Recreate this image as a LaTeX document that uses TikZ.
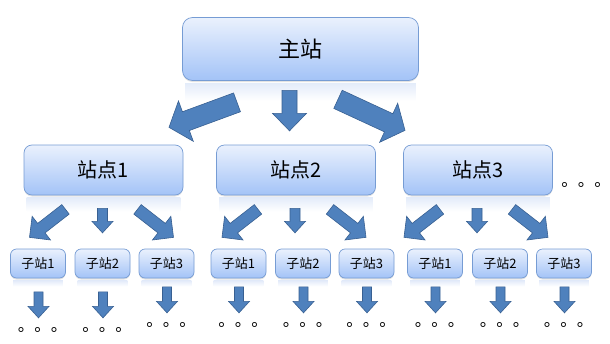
\documentclass[tikz,border=0pt]{standalone}
\usepackage{fontspec}
\newfontfamily\cjk{Noto Sans CJK SC}
\usetikzlibrary{calc,shadows}
\definecolor{boxtop}{RGB}{234,241,253}
\definecolor{boxbot}{RGB}{163,195,247}
\definecolor{boxedge}{RGB}{118,156,212}
\definecolor{arrfill}{RGB}{79,129,189}
\definecolor{arredge}{RGB}{56,96,146}
\definecolor{reflect}{RGB}{228,236,250}
\tikzset{
  stbox/.style={draw=boxedge, line width=0.7pt, top color=boxtop, bottom color=boxbot,
    font=\cjk, inner sep=0pt,
    drop shadow={opacity=0.22,shadow xshift=0pt,shadow yshift=-1.5pt}},
  mainbox/.style={stbox, rounded corners=10pt, minimum width=236pt, minimum height=63pt,
    font=\cjk\fontsize{22}{26}\selectfont},
  sitebox/.style={stbox, rounded corners=8pt, minimum height=50pt,
    font=\cjk\fontsize{20}{24}\selectfont},
  subbox/.style={stbox, rounded corners=6pt, minimum width=55pt, minimum height=29pt,
    font=\cjk\fontsize{13}{16}\selectfont},
  blkarrow/.style={fill=arrfill, draw=arredge, line width=0.6pt, line join=miter},
  dots/.style={font=\cjk\fontsize{16.5}{18}\selectfont, inner sep=0pt, anchor=base}
}
% block arrow: tail, tip, half shaft, half head, head length
\newcommand{\blkarrow}[5]{%
  \coordinate (ba) at #1;
  \coordinate (bb) at #2;
  \coordinate (bn) at ($(bb)!#5!(ba)$);
  \draw[blkarrow] ($(ba)!#3!90:(bb)$) -- ($(bn)!#3!90:(bb)$) -- ($(bn)!#4!90:(bb)$)
    -- (bb) -- ($(bn)!#4!-90:(bb)$) -- ($(bn)!#3!-90:(bb)$) -- ($(ba)!#3!-90:(bb)$) -- cycle;}
% reflection under a box
\newcommand{\reflbox}[2]{%
  \shade[top color=reflect, bottom color=white] ($(#1.south west)+(3,2.5)$) rectangle ($(#1.south east)+(-3,#2)$);}

\begin{document}
\begin{tikzpicture}[x=1pt,y=-1pt]
\useasboundingbox (0,0) rectangle (610,343);
\node[mainbox] (main) at (300.5,49) {主站};
\node[sitebox, minimum width=159pt] (st1) at (103.5,170) {站点1};
\node[sitebox, minimum width=159pt] (st2) at (296,170) {站点2};
\node[sitebox, minimum width=149pt] (st3) at (478,170) {站点3};
\node[subbox] (sub11) at (38,263.5) {子站1};
\node[subbox] (sub12) at (102.5,263.5) {子站2};
\node[subbox] (sub13) at (166.5,263.5) {子站3};
\node[subbox] (sub21) at (238.5,263.5) {子站1};
\node[subbox] (sub22) at (303,263.5) {子站2};
\node[subbox] (sub23) at (366.5,263.5) {子站3};
\node[subbox] (sub31) at (435,263.5) {子站1};
\node[subbox] (sub32) at (500,263.5) {子站2};
\node[subbox] (sub33) at (564,263.5) {子站3};
\node[dots] (more) at (586,186) {。。。};
\reflbox{main}{20}
\foreach \s in {st1,st2,st3}{\reflbox{\s}{16}}
\foreach \s in {sub11,sub12,sub13,sub21,sub22,sub23,sub31,sub32,sub33}{\reflbox{\s}{8}}
\blkarrow{($(main.south)+(-63.5,21.5)$)}{($(main.south)+(-131.5,46.5)$)}{10pt}{21.5pt}{18pt}
\blkarrow{($(main.south)+(-11,9.5)$)}{($(main.south)+(-11,50)$)}{7.5pt}{17pt}{17.5pt}
\blkarrow{($(main.south)+(37.5,18.5)$)}{($(main.south)+(104.5,49.5)$)}{10pt}{21.5pt}{18pt}
\foreach \s in {st1,st2,st3}{
  \blkarrow{($(\s.south)+(-38,14)$)}{($(\s.south)+(-74,42)$)}{6pt}{15pt}{15pt}
  \blkarrow{($(\s.south)+(-1,13)$)}{($(\s.south)+(-1,37.5)$)}{5pt}{10.5pt}{11.5pt}
  \blkarrow{($(\s.south)+(34,14)$)}{($(\s.south)+(70,42)$)}{6pt}{15pt}{15pt}
}
\foreach \s/\d in {sub11/5,sub12/5,sub13/0,sub21/0,sub22/0,sub23/0,sub31/0,sub32/0,sub33/0}{
  \blkarrow{($(\s.south)+(0.5,8.5+\d)$)}{($(\s.south)+(0.5,34.5+\d)$)}{4.5pt}{10.5pt}{11.5pt}
  \node[dots] at ($(\s.south)+(4.5,48+\d)$) {。。。};
}
\end{tikzpicture}
\end{document}
